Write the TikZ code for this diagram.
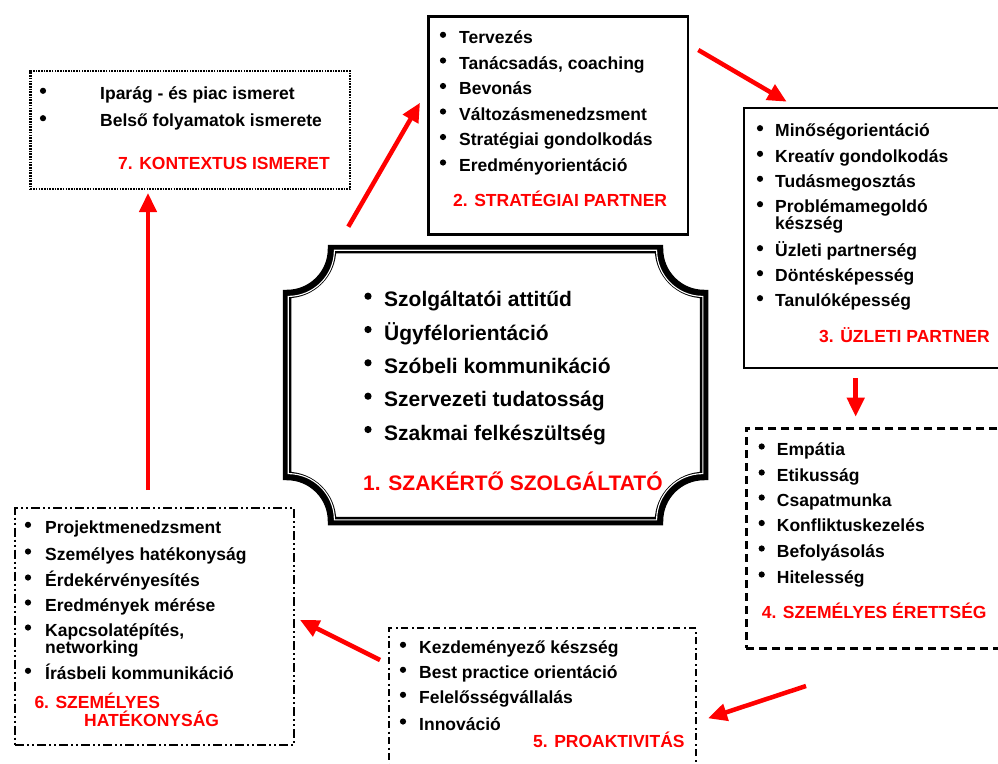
\documentclass[tikz,border=0pt]{standalone}
\usepackage{fontspec}
\setmainfont{Liberation Sans}
\usetikzlibrary{arrows.meta}
\definecolor{tred}{RGB}{255,0,0}
\tikzset{
  itm/.style={anchor=base west, inner sep=0pt, font=\fontsize{17.5}{20}\selectfont\bfseries},
  ctr/.style={anchor=base west, inner sep=0pt, font=\fontsize{21}{24}\selectfont\bfseries},
  ttl/.style={itm, text=tred},
  cttl/.style={ctr, text=tred},
  arr/.style={draw=tred, line width=4.5pt, -{Triangle[length=19pt,width=17pt]}},
  box/.style={draw, anchor=north west, inner sep=0pt, fill=none},
  dotbox/.style={box, line width=2.2pt, dash pattern=on 1.6pt off 1.1pt},
  solbox/.style={box, line width=2.5pt},
  thinbox/.style={box, line width=1.8pt},
  dashbox/.style={box, line width=2.8pt, dash pattern=on 8pt off 5pt},
  dotdashbox/.style={box, line width=2.2pt, dash pattern=on 7pt off 3.5pt on 2pt off 3.5pt},
  dotdotbox/.style={box, line width=2.2pt, dash pattern=on 9pt off 3pt on 2pt off 3pt on 2pt off 3pt}
}
\begin{document}
\begin{tikzpicture}[x={(1pt,0)}, y={(0,-1pt)}]
\useasboundingbox (0,0) rectangle (998,763);
\fill[white] (0,0) rectangle (998,763);

% ---------- boxes ----------
\node[dotbox, minimum width=319.7pt, minimum height=118pt] (b7) at (29.3,70) {};
\node[solbox, minimum width=259.5pt, minimum height=218pt] (b2) at (427,15) {};
\node[thinbox, minimum width=258pt, minimum height=260pt] (b3) at (743,107) {};
\node[dashbox, minimum width=256pt, minimum height=220pt] (b4) at (745,427) {};
\node[dotdashbox, minimum width=307pt, minimum height=141pt] (b5) at (388,627) {};
\node[dotdotbox, minimum width=278.7pt, minimum height=237pt] (b6) at (14,507) {};

% ---------- central plaque ----------
\foreach \lw/\col/\o in {8.5pt/black/0, 1.1pt/white/1.2}{
\pgfmathsetmacro\pL{287+\o}
\pgfmathsetmacro\pR{704-\o}
\pgfmathsetmacro\pT{249+\o}
\pgfmathsetmacro\pB{521-\o}
\pgfmathsetmacro\pr{45+\o}
\pgfmathsetmacro\pk{0.5523*\pr}
\draw[line width=\lw, draw=\col]
  (\pL+\pr,\pT) -- (\pR-\pr,\pT)
  .. controls (\pR-\pr,\pT+\pk) and (\pR-\pk,\pT+\pr) .. (\pR,\pT+\pr)
  -- (\pR,\pB-\pr)
  .. controls (\pR-\pk,\pB-\pr) and (\pR-\pr,\pB-\pk) .. (\pR-\pr,\pB)
  -- (\pL+\pr,\pB)
  .. controls (\pL+\pr,\pB-\pk) and (\pL+\pk,\pB-\pr) .. (\pL,\pB-\pr)
  -- (\pL,\pT+\pr)
  .. controls (\pL+\pk,\pT+\pr) and (\pL+\pr,\pT+\pk) .. (\pL+\pr,\pT)
  -- cycle;
}
\coordinate (c1) at (495,385);

% ---------- central text ----------
\foreach \y/\t [count=\i] in {306.7/Szolgáltatói attitűd, 340/Ügyfélorientáció, 373.3/Szóbeli kommunikáció, 406.7/Szervezeti tudatosság, 440/Szakmai felkészültség}{
  \fill (368,\y-10.5) circle[radius=3.6pt];
  \node[ctr] (c1t\i) at (384,\y) {\t};
}
\node[cttl] (c1h) at (363,490) {1. SZAKÉRTŐ SZOLGÁLTATÓ};

% ---------- box 7 ----------
\foreach \y/\t [count=\i] in {99.3/Iparág - és piac ismeret, 126.7/Belső folyamatok ismerete}{
  \fill (43,\y-8.5) circle[radius=3.1pt];
  \node[itm] (b7t\i) at (100,\y) {\t};
}
\node[ttl] (b7h) at (118,169.3) {7. KONTEXTUS ISMERET};

% ---------- box 2 ----------
\foreach \y/\t [count=\i] in {43.3/Tervezés, 69/{Tanácsadás, coaching}, 94.5/Bevonás, 120/Változásmenedzsment, 145.5/Stratégiai gondolkodás, 171/Eredményorientáció}{
  \fill (443,\y-8.5) circle[radius=3.1pt];
  \node[itm] (b2t\i) at (459,\y) {\t};
}
\node[ttl] (b2h) at (453,206.7) {2. STRATÉGIAI PARTNER};

% ---------- box 3 ----------
\foreach \y/\t [count=\i] in {136.7/Minőségorientáció, 162.3/Kreatív gondolkodás, 187.3/Tudásmegosztás, 212.7/Problémamegoldó, 256.7/Üzleti partnerség, 281.7/Döntésképesség, 306.7/Tanulóképesség}{
  \fill (760,\y-8.5) circle[radius=3.1pt];
  \node[itm] (b3t\i) at (775,\y) {\t};
}
\node[itm] (b3t4b) at (775,229.5) {készség};
\node[ttl] (b3h) at (819,342.3) {3. ÜZLETI PARTNER};

% ---------- box 4 ----------
\foreach \y/\t [count=\i] in {455/Empátia, 481/Etikusság, 506/Csapatmunka, 531.5/Konfliktuskezelés, 557/Befolyásolás, 583/Hitelesség}{
  \fill (761.7,\y-8.5) circle[radius=3.1pt];
  \node[itm] (b4t\i) at (776.7,\y) {\t};
}
\node[ttl] (b4h) at (761.7,618.3) {4. SZEMÉLYES ÉRETTSÉG};

% ---------- box 5 ----------
\foreach \y/\t [count=\i] in {653.3/Kezdeményező készség, 678.3/Best practice orientáció, 703.3/Felelősségvállalás, 730/Innováció}{
  \fill (403,\y-8.5) circle[radius=3.1pt];
  \node[itm] (b5t\i) at (419,\y) {\t};
}
\node[ttl] (b5h) at (533,747.7) {5. PROAKTIVITÁS};

% ---------- box 6 ----------
\foreach \y/\t [count=\i] in {533.3/Projektmenedzsment, 560/Személyes hatékonyság, 586/Érdekérvényesítés, 611/Eredmények mérése, 636/Kapcsolatépítés{,}, 679.3/Írásbeli kommunikáció}{
  \fill (28,\y-8.5) circle[radius=3.1pt];
  \node[itm] (b6t\i) at (45,\y) {\t};
}
\node[itm] (b6t5b) at (45,653.3) {networking};
\node[ttl] (b6h1) at (34.3,708.3) {6. SZEMÉLYES};
\node[ttl] (b6h2) at (84,726) {HATÉKONYSÁG};

% ---------- arrows ----------
\coordinate (a1s) at (348.3,226.7); \coordinate (a1e) at (420,102.7);
\coordinate (a2s) at (698.3,50);    \coordinate (a2e) at (786.7,101.7);
\coordinate (a3s) at (855.7,378);   \coordinate (a3e) at (855.7,416.7);
\coordinate (a4s) at (806,686);     \coordinate (a4e) at (708,718.3);
\coordinate (a5s) at (380,660);     \coordinate (a5e) at (300,620);
\coordinate (a6s) at (148,490);     \coordinate (a6e) at (148,193);
\draw[arr] (a1s) -- (a1e);
\draw[arr] (a2s) -- (a2e);
\draw[arr] (a3s) -- (a3e);
\draw[arr] (a4s) -- (a4e);
\draw[arr] (a5s) -- (a5e);
\draw[arr] (a6s) -- (a6e);
\end{tikzpicture}
\end{document}
